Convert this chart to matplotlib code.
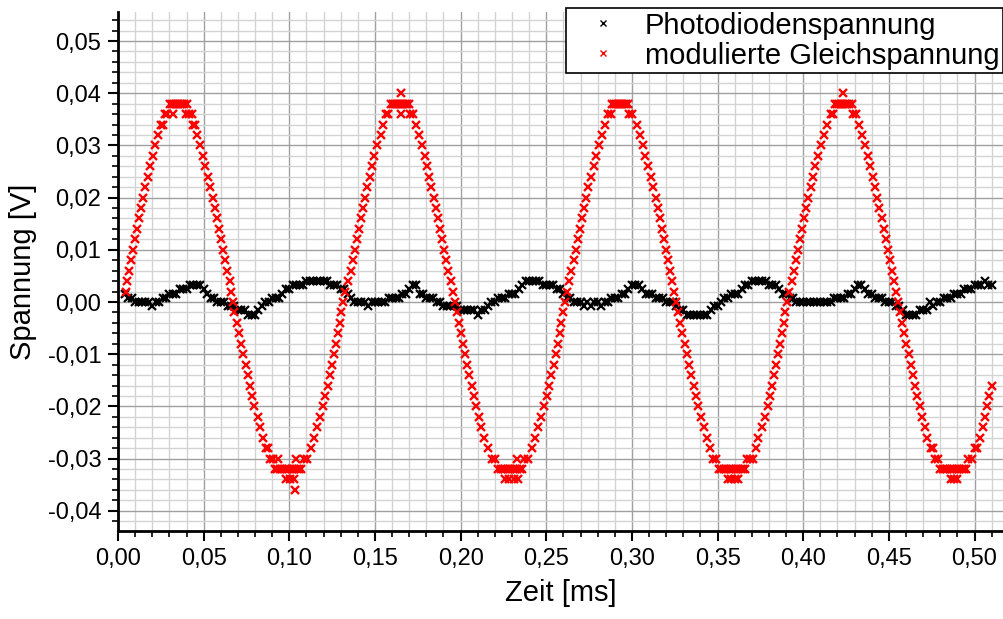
import matplotlib
matplotlib.use("Agg")
import matplotlib.pyplot as plt
from matplotlib.ticker import MultipleLocator, FuncFormatter
import numpy as np

# Photodiode signal, sampled every 2 us starting at t = 0.004 ms, values in mV
black_t0 = 0.004
black_dt = 0.002
black_mv = [
    1.6, 0.8, 0.8, 0, 0, 0, 0, 0, -0.8, 0,
    0, 0.8, 0.8, 1.6, 1.6, 1.6, 2.4, 2.4, 2.4, 3.2,
    3.2, 3.2, 3.2, 2.4, 1.6, 0.8, 0.8, 0, 0, 0,
    -0.8, -0.8, -0.8, -1.6, -1.6, -1.6, -2.4, -2.4, -2.4, -1.6,
    -0.8, 0, 0, 0.8, 0.8, 0.8, 1.6, 2.4, 2.4, 3.2,
    3.2, 3.2, 3.2, 4.0, 4.0, 4.0, 4.0, 4.0, 4.0, 4.0,
    3.2, 3.2, 3.2, 2.4, 2.4, 1.6, 0.8, 0, 0, 0,
    0, -0.8, 0, 0, 0, 0, 0, 0.8, 0.8, 0.8,
    0.8, 1.6, 1.6, 2.4, 3.2, 3.2, 1.6, 1.6, 0.8, 0.8,
    0.8, 0, 0, -0.8, -0.8, -0.8, -0.8, -0.8, -1.6, -1.6,
    -1.6, -1.6, -1.6, -2.4, -1.6, -1.6, -0.8, 0, 0, 0.8,
    0.8, 0.8, 1.6, 1.6, 1.6, 2.4, 3.2, 4.0, 4.0, 4.0,
    4.0, 4.0, 3.2, 3.2, 3.2, 3.2, 2.4, 2.4, 1.6, 0.8,
    0.8, 0, 0, 0, -0.8, 0, -0.8, 0, 0, -0.8,
    0, 0, 0.8, 0.8, 0.8, 1.6, 1.6, 2.4, 3.2, 3.2,
    3.2, 2.4, 1.6, 1.6, 1.6, 0.8, 0.8, 0.8, 0, 0,
    0, -0.8, -1.6, -1.6, -2.4, -2.4, -2.4, -2.4, -2.4, -2.4,
    -2.4, -1.6, -0.8, -0.8, 0, 0.8, 0.8, 1.6, 1.6, 1.6,
    2.4, 3.2, 3.2, 4.0, 4.0, 4.0, 4.0, 4.0, 3.2, 3.2,
    3.2, 2.4, 1.6, 1.6, 0.8, 0.8, 0, 0, 0, 0,
    0, 0, 0, 0, 0, 0, 0, 0.8, 0.8, 0.8,
    0.8, 1.6, 1.6, 2.4, 3.2, 3.2, 2.4, 1.6, 1.6, 0.8,
    0.8, 0.8, 0, 0, 0, -0.8, -0.8, -1.6, -2.4, -2.4,
    -2.4, -2.4, -1.6, -1.6, -1.6, 0, -0.8, 0, 0, 0.8,
    0.8, 0.8, 1.6, 1.6, 1.6, 2.4, 2.4, 2.4, 3.2, 3.2,
    3.2, 4.0, 3.2, 3.2,
]

# modulated DC voltage: (time in ms, value in mV)
red_points = [
    # 1st period
    (0.0045, 2), (0.0052, 4), (0.0062, 6), (0.0074, 8), (0.0088, 10), (0.0101, 12),
    (0.0111, 14), (0.0123, 16), (0.0134, 18), (0.0148, 20), (0.0160, 22), (0.0173, 24),
    (0.0187, 26), (0.0202, 28), (0.0216, 30), (0.0235, 32), (0.0253, 34), (0.0265, 34),
    (0.0272, 36), (0.0288, 36), (0.0323, 36),
    (0.0304, 38), (0.0316, 38), (0.0328, 38), (0.0340, 38), (0.0352, 38), (0.0364, 38),
    (0.0376, 38), (0.0388, 38), (0.0400, 38),
    (0.0398, 36), (0.0416, 36), (0.0434, 36), (0.0440, 34), (0.0452, 34), (0.0462, 32),
    (0.0481, 30), (0.0494, 28), (0.0510, 26), (0.0525, 24), (0.0537, 22), (0.0553, 20),
    (0.0566, 18), (0.0580, 16), (0.0591, 14), (0.0603, 12), (0.0613, 10), (0.0625, 8),
    (0.0638, 6), (0.0651, 4), (0.0661, 2), (0.0671, 0), (0.0680, -2), (0.0696, -4),
    (0.0708, -6), (0.0717, -8), (0.0729, -10), (0.0747, -12), (0.0759, -14), (0.0772, -16),
    (0.0782, -18), (0.0796, -20), (0.0815, -22), (0.0831, -24), (0.0846, -26), (0.0866, -28),
    (0.0876, -28), (0.0890, -30), (0.0905, -30), (0.0936, -30),
    (0.0916, -32), (0.0930, -32), (0.0944, -32), (0.0958, -32), (0.0972, -32), (0.0986, -32),
    (0.1000, -32), (0.1014, -32), (0.1028, -32), (0.1042, -32), (0.1056, -32), (0.1070, -32),
    (0.0979, -34), (0.1004, -34), (0.1030, -34), (0.1035, -36), (0.1039, -30),
    (0.1084, -30), (0.1104, -30), (0.1124, -28), (0.1144, -26), (0.1163, -24), (0.1181, -22),
    (0.1197, -20), (0.1210, -18), (0.1224, -16), (0.1238, -14), (0.1250, -12), (0.1261, -10),
    (0.1271, -8), (0.1284, -6), (0.1296, -4), (0.1304, -2), (0.1313, 0),
    # 2nd period
    (0.1325, 2), (0.1343, 4), (0.1358, 6), (0.1370, 8), (0.1381, 10), (0.1393, 12),
    (0.1404, 14), (0.1417, 16), (0.1428, 18), (0.1441, 20), (0.1456, 22), (0.1469, 24),
    (0.1481, 26), (0.1495, 28), (0.1513, 30), (0.1533, 32), (0.1549, 34), (0.1562, 36),
    (0.1577, 36),
    (0.1592, 38), (0.1604, 38), (0.1616, 38), (0.1628, 38), (0.1640, 38), (0.1652, 38),
    (0.1664, 38), (0.1676, 38), (0.1688, 38), (0.1700, 38),
    (0.1652, 40), (0.1652, 36),
    (0.1702, 36), (0.1720, 36), (0.1737, 34), (0.1755, 32), (0.1772, 30), (0.1790, 28),
    (0.1803, 26), (0.1817, 24), (0.1830, 22), (0.1842, 20), (0.1855, 18), (0.1866, 16),
    (0.1878, 14), (0.1892, 12), (0.1904, 10), (0.1916, 8), (0.1929, 6), (0.1941, 4),
    (0.1953, 2), (0.1965, 0), (0.1977, -2), (0.1989, -4), (0.2001, -6), (0.2013, -8),
    (0.2025, -10), (0.2038, -12), (0.2051, -14), (0.2064, -16), (0.2077, -18), (0.2091, -20),
    (0.2106, -22), (0.2121, -24), (0.2138, -26), (0.2158, -28), (0.2186, -30), (0.2200, -30),
    (0.2220, -32), (0.2234, -32), (0.2248, -32), (0.2262, -32), (0.2276, -32), (0.2290, -32),
    (0.2304, -32), (0.2318, -32), (0.2332, -32), (0.2346, -32), (0.2360, -32),
    (0.2262, -34), (0.2285, -34), (0.2310, -34), (0.2333, -34), (0.2327, -30),
    (0.2372, -30), (0.2395, -30), (0.2414, -28), (0.2434, -26), (0.2452, -24), (0.2469, -22),
    (0.2487, -20), (0.2502, -18), (0.2516, -16), (0.2530, -14), (0.2543, -12), (0.2556, -10),
    (0.2569, -8), (0.2579, -6), (0.2588, -4), (0.2598, -2), (0.2609, 0), (0.2621, 2),
    (0.2632, 4), (0.2645, 6),
    # 3rd period
    (0.2660, 8), (0.2672, 10), (0.2683, 12), (0.2694, 14), (0.2707, 16), (0.2720, 18),
    (0.2733, 20), (0.2746, 22), (0.2760, 24), (0.2776, 26), (0.2790, 28), (0.2805, 30),
    (0.2825, 32), (0.2843, 34), (0.2860, 36), (0.2876, 36),
    (0.2884, 38), (0.2896, 38), (0.2908, 38), (0.2920, 38), (0.2932, 38), (0.2944, 38),
    (0.2956, 38), (0.2968, 38), (0.2980, 38),
    (0.2984, 36), (0.3002, 36), (0.3028, 34), (0.3050, 32), (0.3064, 30), (0.3079, 28),
    (0.3096, 26), (0.3111, 24), (0.3125, 22), (0.3139, 20), (0.3153, 18), (0.3166, 16),
    (0.3177, 14), (0.3188, 12), (0.3199, 10), (0.3211, 8), (0.3223, 6), (0.3235, 4),
    (0.3246, 2), (0.3258, 0), (0.3271, -2), (0.3283, -4), (0.3294, -6), (0.3307, -8),
    (0.3321, -10), (0.3334, -12), (0.3347, -14), (0.3362, -16), (0.3374, -18), (0.3387, -20),
    (0.3402, -22), (0.3418, -24), (0.3436, -26), (0.3456, -28), (0.3476, -30), (0.3490, -30),
    (0.3508, -32), (0.3522, -32), (0.3536, -32), (0.3550, -32), (0.3564, -32), (0.3578, -32),
    (0.3592, -32), (0.3606, -32), (0.3620, -32), (0.3634, -32), (0.3648, -32), (0.3662, -32),
    (0.3560, -34), (0.3580, -34), (0.3600, -34), (0.3617, -34),
    (0.3670, -30), (0.3690, -30), (0.3706, -30), (0.3724, -28), (0.3737, -26), (0.3757, -24),
    (0.3779, -22), (0.3796, -20), (0.3808, -18), (0.3818, -16), (0.3829, -14), (0.3840, -12),
    (0.3853, -10), (0.3866, -8), (0.3876, -6), (0.3885, -4), (0.3894, -2), (0.3904, 0),
    (0.3918, 2), (0.3932, 4), (0.3946, 6),
    # 4th period
    (0.3958, 8), (0.3970, 10), (0.3981, 12), (0.3993, 14), (0.4005, 16), (0.4016, 18),
    (0.4030, 20), (0.4044, 22), (0.4058, 24), (0.4070, 26), (0.4086, 28), (0.4102, 30),
    (0.4121, 32), (0.4141, 34), (0.4160, 36), (0.4176, 36),
    (0.4186, 38), (0.4198, 38), (0.4210, 38), (0.4222, 38), (0.4234, 38), (0.4246, 38),
    (0.4258, 38), (0.4270, 38), (0.4282, 38), (0.4234, 40),
    (0.4290, 36), (0.4308, 36), (0.4324, 34), (0.4341, 32), (0.4362, 30), (0.4378, 28),
    (0.4390, 26), (0.4405, 24), (0.4420, 22), (0.4433, 20), (0.4445, 18), (0.4458, 16),
    (0.4470, 14), (0.4481, 12), (0.4493, 10), (0.4504, 8), (0.4517, 6), (0.4529, 4),
    (0.4541, 2), (0.4552, 0), (0.4565, -2), (0.4578, -4), (0.4590, -6), (0.4602, -8),
    (0.4615, -10), (0.4628, -12), (0.4642, -14), (0.4653, -16), (0.4665, -18), (0.4681, -20),
    (0.4696, -22), (0.4710, -24), (0.4723, -26), (0.4745, -28), (0.4756, -28), (0.4772, -30),
    (0.4786, -30),
    (0.4799, -32), (0.4813, -32), (0.4827, -32), (0.4841, -32), (0.4855, -32), (0.4869, -32),
    (0.4883, -32), (0.4897, -32), (0.4911, -32), (0.4925, -32), (0.4939, -32), (0.4953, -32),
    (0.4862, -34), (0.4880, -34), (0.4900, -34),
    (0.4962, -30), (0.4985, -30), (0.5002, -28), (0.5014, -28), (0.5030, -26), (0.5048, -24),
    (0.5061, -22), (0.5075, -20), (0.5086, -18), (0.5100, -16),
]


def komma(v, pos):
    s = "%.2f" % v
    if s == "-0.00":
        s = "0.00"
    return s.replace(".", ",")


plt.rcParams["font.family"] = ["Liberation Sans", "DejaVu Sans"]

fig = plt.figure(figsize=(10.04, 6.19), dpi=100)
ax = fig.add_axes([118 / 1004, 88 / 619, 886 / 1004, 519 / 619])

black_t = black_t0 + black_dt * np.arange(len(black_mv))
black_v = np.array(black_mv) / 1000.0
red_t = np.array([p[0] for p in red_points])
red_v = np.array([p[1] for p in red_points]) / 1000.0

ax.plot(black_t, black_v, "x", color="black", ms=6, mew=1.6, label="Photodiodenspannung")
ax.plot(red_t, red_v, "x", color="red", ms=5.5, mew=1.7, label="modulierte Gleichspannung")

ax.set_xlim(0, 0.5172)
ax.set_ylim(-0.04387, 0.05556)

ax.xaxis.set_major_locator(MultipleLocator(0.05))
ax.xaxis.set_minor_locator(MultipleLocator(0.01))
ax.yaxis.set_major_locator(MultipleLocator(0.01))
ax.yaxis.set_minor_locator(MultipleLocator(0.002))
ax.xaxis.set_major_formatter(FuncFormatter(komma))
ax.yaxis.set_major_formatter(FuncFormatter(komma))

ax.set_axisbelow(True)
ax.grid(which="major", color="#a0a0a0", lw=1.0)
ax.grid(which="minor", color="#d3d3d3", lw=1.0)

ax.tick_params(which="major", direction="out", length=7, width=1.5, labelsize=17, pad=5)
ax.tick_params(which="minor", direction="out", length=4, width=1.2)
for side in ["top", "right"]:
    ax.spines[side].set_visible(False)
for side in ["left", "bottom"]:
    ax.spines[side].set_linewidth(2)

ax.set_xlabel("Zeit [ms]", fontsize=21, labelpad=7)
ax.set_ylabel("Spannung [V]", fontsize=21, labelpad=8)

leg = ax.legend(loc="upper right", bbox_to_anchor=(1003 / 1004, 1 - 8 / 619),
                bbox_transform=fig.transFigure, fontsize=21, frameon=True,
                fancybox=False, edgecolor="black", framealpha=1, borderpad=0.12,
                labelspacing=0.07, handlelength=2.24, handletextpad=0.33,
                borderaxespad=0, markerscale=0.8)
leg.get_frame().set_linewidth(1.2)
for h in leg.legend_handles:
    h.set_markeredgewidth(1.0)

fig.savefig("out.png", dpi=100)
